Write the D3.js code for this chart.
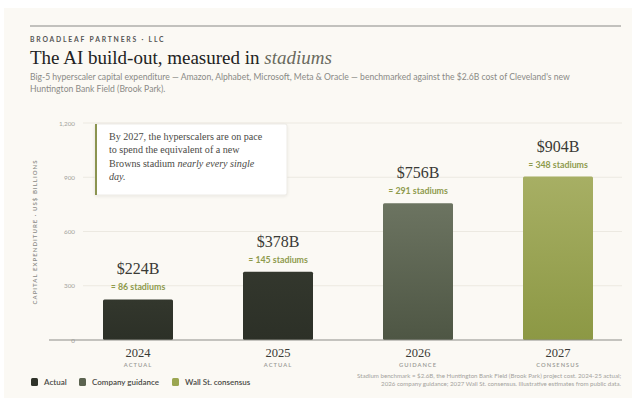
<!DOCTYPE html>
<html>
<head>
<meta charset="utf-8">
<script src="https://cdn.jsdelivr.net/npm/d3@7"></script>
<style>
  html, body { margin: 0; padding: 0; background: #ffffff; }
  svg { display: block; }
</style>
</head>
<body>
<svg id="chart" width="640" height="405"></svg>
<script>
// ---- data ----
const categories = ["2024", "2025", "2026", "2027"];
const subLabels = ["ACTUAL", "ACTUAL", "GUIDANCE", "CONSENSUS"];
const capex = [224, 378, 756, 904];
const stadiums = [86, 145, 291, 348];
const seriesType = ["actual", "actual", "guidance", "consensus"];
const yTicks = [0, 300, 600, 900, 1200];
const legendLabels = ["Actual", "Company guidance", "Wall St. consensus"];
const legendTypes = ["actual", "guidance", "consensus"];

const serif = "'Liberation Serif', 'DejaVu Serif', serif";
const sans = "Lato, 'Open Sans', 'Noto Sans', sans-serif";

const svg = d3.select("#chart");

// card background
svg.append("rect").attr("x", 4).attr("y", 8).attr("width", 628).attr("height", 390)
  .attr("fill", "#fbf9f4");

// gradients
const defs = svg.append("defs");
const grads = {
  actual: ["#33372d", "#2c3027"],
  guidance: ["#6c7461", "#4e5644"],
  consensus: ["#a7af64", "#8c9844"]
};
Object.entries(grads).forEach(([k, c]) => {
  const g = defs.append("linearGradient").attr("id", "g-" + k)
    .attr("x1", 0).attr("y1", 0).attr("x2", 0).attr("y2", 1);
  g.append("stop").attr("offset", "0%").attr("stop-color", c[0]);
  g.append("stop").attr("offset", "100%").attr("stop-color", c[1]);
});
const legendColor = { actual: "#2f332a", guidance: "#5b6350", consensus: "#9ba651" };
const filt = defs.append("filter").attr("id", "shadow").attr("x", "-10%").attr("y", "-10%")
  .attr("width", "120%").attr("height", "130%");
filt.append("feDropShadow").attr("dx", 0).attr("dy", 1).attr("stdDeviation", 1.5)
  .attr("flood-color", "#000").attr("flood-opacity", 0.08);

// header
svg.append("line").attr("x1", 30).attr("x2", 621).attr("y1", 26).attr("y2", 26)
  .attr("stroke", "#8a8a86").attr("stroke-width", 1.2);
svg.append("text").attr("x", 30).attr("y", 42)
  .attr("font-family", sans).attr("font-weight", 700).attr("font-size", 6.8)
  .attr("letter-spacing", 1.8).attr("fill", "#555")
  .text("BROADLEAF PARTNERS · LLC");
const title = svg.append("text").attr("x", 30).attr("y", 64)
  .attr("font-family", serif).attr("font-size", 19).attr("fill", "#222");
title.append("tspan").text("The AI build-out, measured in ");
title.append("tspan").attr("font-style", "italic").attr("fill", "#6a6a5e").text("stadiums");
svg.append("text").attr("x", 30).attr("y", 80)
  .attr("font-family", sans).attr("font-size", 8.6).attr("fill", "#8a8a86")
  .text("Big-5 hyperscaler capital expenditure — Amazon, Alphabet, Microsoft, Meta & Oracle — benchmarked against the $2.6B cost of Cleveland's new");
svg.append("text").attr("x", 30).attr("y", 92)
  .attr("font-family", sans).attr("font-size", 8.6).attr("fill", "#8a8a86")
  .text("Huntington Bank Field (Brook Park).");

// scales
const y = d3.scaleLinear().domain([0, 1200]).range([340, 123]);
const x = d3.scaleBand().domain(categories).range([68, 628]).paddingInner(0.5).paddingOuter(0.25);

// gridlines
svg.append("g").selectAll("line").data(yTicks.filter(d => d > 0)).join("line")
  .attr("x1", 83).attr("x2", 622).attr("y1", d => y(d)).attr("y2", d => y(d))
  .attr("stroke", "#ece9e1").attr("stroke-width", 1);

// y axis via d3.axisLeft
const yAxis = svg.append("g").attr("transform", "translate(80,0)")
  .call(d3.axisLeft(y).tickValues(yTicks).tickSize(0).tickPadding(5).tickFormat(d3.format(",")));
yAxis.select(".domain").remove();
yAxis.selectAll("text").attr("font-family", sans).attr("font-size", 6.3).attr("fill", "#a3a29c");

svg.append("text")
  .attr("transform", "translate(37,232) rotate(-90)")
  .attr("text-anchor", "middle")
  .attr("font-family", sans).attr("font-weight", 600).attr("font-size", 6)
  .attr("letter-spacing", 1.05).attr("fill", "#8a8a86")
  .text("CAPITAL EXPENDITURE · US$ BILLIONS");

// annotation box
const ann = svg.append("g");
ann.append("rect").attr("x", 95).attr("y", 124).attr("width", 192).attr("height", 71)
  .attr("rx", 2).attr("fill", "#ffffff").attr("stroke", "#e9e6df").attr("stroke-width", 0.8)
  .attr("filter", "url(#shadow)");
ann.append("rect").attr("x", 95).attr("y", 124).attr("width", 2).attr("height", 71)
  .attr("fill", "#8b9450");
const annLines = [
  [["By 2027, the hyperscalers are on pace", false]],
  [["to spend the equivalent of a new", false]],
  [["Browns stadium ", false], ["nearly every single", true]],
  [["day.", true]]
];
annLines.forEach((parts, i) => {
  const t = ann.append("text").attr("x", 109).attr("y", 140 + i * 13.4)
    .attr("font-family", serif).attr("font-size", 10.1).attr("fill", "#4a4a46");
  parts.forEach(p => t.append("tspan").attr("font-style", p[1] ? "italic" : "normal").text(p[0]));
});

// bars
const bars = svg.append("g");
bars.selectAll("rect").data(categories).join("rect")
  .attr("x", d => x(d)).attr("width", x.bandwidth())
  .attr("y", (d, i) => y(capex[i])).attr("height", (d, i) => y(0) - y(capex[i]))
  .attr("rx", 1.5)
  .attr("fill", (d, i) => "url(#g-" + seriesType[i] + ")");

// value labels
svg.append("g").selectAll("text").data(categories).join("text")
  .attr("x", d => x(d) + x.bandwidth() / 2).attr("y", (d, i) => y(capex[i]) - 25)
  .attr("text-anchor", "middle").attr("font-family", serif).attr("font-size", 16)
  .attr("fill", "#3a3a36").text((d, i) => "$" + capex[i] + "B");
svg.append("g").selectAll("text").data(categories).join("text")
  .attr("x", d => x(d) + x.bandwidth() / 2).attr("y", (d, i) => y(capex[i]) - 9)
  .attr("text-anchor", "middle").attr("font-family", sans).attr("font-weight", 700)
  .attr("font-size", 8.8).attr("fill", "#8e9a4c").text((d, i) => "≈ " + stadiums[i] + " stadiums");

// baseline
svg.append("line").attr("x1", 49).attr("x2", 622).attr("y1", y(0)).attr("y2", y(0))
  .attr("stroke", "#8d8d88").attr("stroke-width", 1.2);

// x axis labels
const xAxis = svg.append("g").attr("transform", "translate(0," + y(0) + ")")
  .call(d3.axisBottom(x).tickSize(0).tickPadding(17));
xAxis.select(".domain").remove();
xAxis.selectAll("text").attr("dy", 0).attr("font-family", serif).attr("font-size", 12.5).attr("fill", "#3a3a36");
svg.append("g").selectAll("text").data(categories).join("text")
  .attr("x", d => x(d) + x.bandwidth() / 2).attr("y", 367)
  .attr("text-anchor", "middle").attr("font-family", sans).attr("font-weight", 600)
  .attr("font-size", 5.8).attr("letter-spacing", 1).attr("fill", "#9a9a94")
  .text((d, i) => subLabels[i]);

// legend
const legX = [31, 79, 172];
const leg = svg.append("g").selectAll("g").data(legendLabels).join("g")
  .attr("transform", (d, i) => "translate(" + legX[i] + ",378)");
leg.append("rect").attr("width", 7).attr("height", 8).attr("rx", 1.5)
  .attr("fill", (d, i) => legendColor[legendTypes[i]]);
leg.append("text").attr("x", 13).attr("y", 7).attr("font-family", sans).attr("font-weight", 600)
  .attr("font-size", 8).attr("fill", "#4a4a46").text(d => d);

// footnote
const foot = [
  "Stadium benchmark = $2.6B, the Huntington Bank Field (Brook Park) project cost. 2024-25 actual;",
  "2026 company guidance; 2027 Wall St. consensus. Illustrative estimates from public data."
];
svg.append("g").selectAll("text").data(foot).join("text")
  .attr("x", 621).attr("y", (d, i) => 378 + i * 8.3).attr("text-anchor", "end")
  .attr("font-family", sans).attr("font-size", 6.15).attr("fill", "#a3a29c").text(d => d);
</script>
</body>
</html>
